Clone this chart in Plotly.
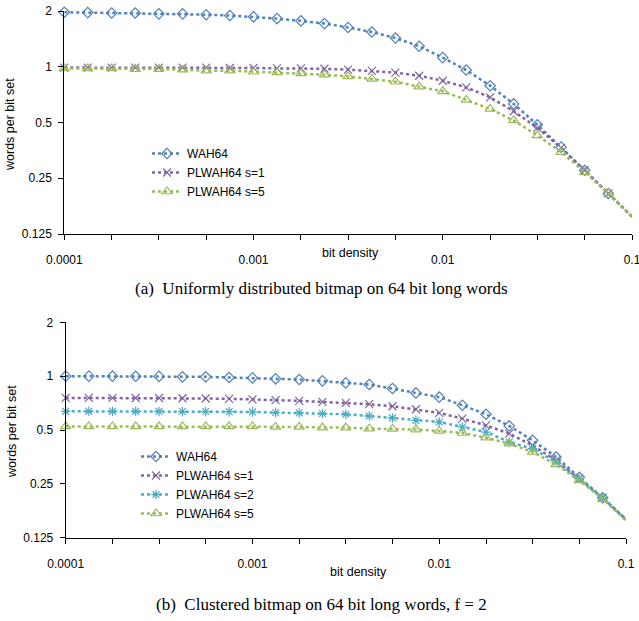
import plotly.graph_objects as go

# ---------------- data ----------------
density = [0.0001, 0.000133, 0.000178, 0.000237, 0.000316, 0.000422, 0.000562, 0.00075,
           0.001, 0.00133, 0.00178, 0.00237, 0.00316, 0.00422, 0.00562, 0.0075,
           0.01, 0.0133, 0.0178, 0.0237, 0.0316, 0.0422, 0.0562, 0.075, 0.1]

# (a) uniformly distributed
a_wah64 = [1.97, 1.96, 1.95, 1.95, 1.93, 1.93, 1.91, 1.89, 1.86, 1.82, 1.77, 1.71, 1.63,
           1.54, 1.43, 1.29, 1.12, 0.96, 0.79, 0.63, 0.486, 0.368, 0.276, 0.207, 0.155]
a_plwah_s1 = [0.99, 0.99, 0.99, 0.99, 0.99, 0.99, 0.99, 0.985, 0.985, 0.98, 0.98, 0.975, 0.965,
              0.95, 0.93, 0.894, 0.84, 0.774, 0.684, 0.575, 0.468, 0.365, 0.276, 0.207, 0.155]
a_plwah_s5 = [0.98, 0.98, 0.98, 0.972, 0.972, 0.964, 0.952, 0.952, 0.94, 0.932, 0.92, 0.906, 0.887,
              0.859, 0.83, 0.781, 0.737, 0.662, 0.592, 0.513, 0.426, 0.346, 0.27, 0.207, 0.155]

# (b) clustered, f = 2
b_wah64 = [1.0, 1.0, 1.0, 0.998, 0.997, 0.991, 0.991, 0.983, 0.978, 0.966, 0.958, 0.941, 0.917,
           0.898, 0.853, 0.806, 0.763, 0.688, 0.612, 0.527, 0.438, 0.353, 0.272, 0.209, 0.158]
b_plwah_s1 = [0.756, 0.756, 0.756, 0.755, 0.755, 0.752, 0.75, 0.747, 0.742, 0.735, 0.728, 0.718, 0.709,
              0.697, 0.679, 0.653, 0.623, 0.579, 0.531, 0.477, 0.41, 0.338, 0.267, 0.209, 0.158]
b_plwah_s2 = [0.636, 0.636, 0.636, 0.636, 0.635, 0.634, 0.634, 0.633, 0.631, 0.626, 0.623, 0.618, 0.612,
              0.599, 0.584, 0.566, 0.554, 0.52, 0.487, 0.428, 0.393, 0.331, 0.267, 0.209, 0.158]
b_plwah_s5 = [0.524, 0.524, 0.524, 0.524, 0.524, 0.524, 0.524, 0.524, 0.524, 0.52, 0.52, 0.516, 0.516,
              0.509, 0.507, 0.503, 0.494, 0.481, 0.453, 0.419, 0.377, 0.321, 0.261, 0.206, 0.156]

x_tickvals = [0.0001, 0.000178, 0.000316, 0.000562, 0.001, 0.00178, 0.00316, 0.00562,
              0.01, 0.0178, 0.0316, 0.0562, 0.1]
x_ticktext = ["0.0001", "", "", "", "0.001", "", "", "", "0.01", "", "", "", "0.1"]
y_tickvals = [0.125, 0.25, 0.5, 1, 2]
y_ticktext = ["0.125", "0.25", "0.5", "1", "2"]

series_a = [("WAH64", a_wah64), ("PLWAH64 s=1", a_plwah_s1), ("PLWAH64 s=5", a_plwah_s5)]
series_b = [("WAH64", b_wah64), ("PLWAH64 s=1", b_plwah_s1), ("PLWAH64 s=2", b_plwah_s2),
            ("PLWAH64 s=5", b_plwah_s5)]

# ---------------- styles ----------------
style = {
    "WAH64": dict(color="#4F81BD", symbol="diamond-open", size=8),
    "PLWAH64 s=1": dict(color="#8064A2", symbol="x-thin", size=8),
    "PLWAH64 s=2": dict(color="#4BACC6", symbol="asterisk-open", size=8),
    "PLWAH64 s=5": dict(color="#9BBB59", symbol="triangle-up-open", size=9),
}

W, H = 639, 621
FONT = "'Liberation Sans', Arial, sans-serif"

fig = go.Figure()

def add_series(series, xa, ya, legend):
    for name, vals in series:
        s = style[name]
        fig.add_trace(go.Scatter(
            x=density, y=vals, name=name, mode="lines+markers",
            xaxis=xa, yaxis=ya, legend=legend, cliponaxis=False,
            line=dict(color=s["color"], width=2.5, dash="dot"),
            marker=dict(symbol=s["symbol"], size=s["size"], color=s["color"],
                        line=dict(color=s["color"], width=1.2)),
        ))

add_series(series_a, "x", "y", "legend")
add_series(series_b, "x2", "y2", "legend2")

def px_x(p):
    return p / W

def px_y(p):
    return 1 - p / H

axis_common = dict(
    showline=True, linecolor="black", linewidth=1, showgrid=False, zeroline=False,
    ticks="outside", ticklen=5, tickcolor="black", tickwidth=1, automargin=False,
    ticklabeloverflow="allow",
    tickfont=dict(family=FONT, size=12, color="black"),
)

fig.update_layout(
    width=W, height=H, margin=dict(l=0, r=0, t=0, b=0),
    paper_bgcolor="white", plot_bgcolor="white",
    font=dict(family=FONT, size=12, color="black"),
    xaxis=dict(type="log", range=[-4, -1], domain=[px_x(64.3), px_x(632)],
               anchor="y", tickvals=x_tickvals, ticktext=x_ticktext, ticklabelstandoff=10,
               **axis_common),
    yaxis=dict(type="log", range=[-0.90309, 0.30103], domain=[px_y(234), px_y(11)],
               anchor="x", tickvals=y_tickvals, ticktext=y_ticktext, ticklabelstandoff=4,
               **axis_common),
    xaxis2=dict(type="log", range=[-4, -1], domain=[px_x(65.7), px_x(626)],
                anchor="y2", tickvals=x_tickvals, ticktext=x_ticktext, ticklabelstandoff=10,
                **axis_common),
    yaxis2=dict(type="log", range=[-0.90309, 0.30103], domain=[px_y(537.7), px_y(322.3)],
                anchor="x2", tickvals=y_tickvals, ticktext=y_ticktext, ticklabelstandoff=4,
                **axis_common),
    legend=dict(x=px_x(147), y=px_y(139), xanchor="left", yanchor="top",
                bgcolor="rgba(0,0,0,0)", font=dict(family=FONT, size=12, color="black"),
                itemwidth=30, tracegroupgap=0),
    legend2=dict(x=px_x(136), y=px_y(442), xanchor="left", yanchor="top",
                 bgcolor="rgba(0,0,0,0)", font=dict(family=FONT, size=12, color="black"),
                 itemwidth=30, tracegroupgap=0),
    showlegend=True,
)

annotations = [
    dict(text="words per bit set", x=px_x(10), y=px_y(125), textangle=-90),
    dict(text="words per bit set", x=px_x(12), y=px_y(432), textangle=-90),
    dict(text="bit density", x=px_x(350), y=px_y(253)),
    dict(text="bit density", x=px_x(358), y=px_y(572)),
]
for a in annotations:
    fig.add_annotation(xref="paper", yref="paper", showarrow=False,
                       xanchor="center", yanchor="middle",
                       font=dict(family=FONT, size=12.5, color="black"), **a)

captions = [
    dict(text="(a)  Uniformly distributed bitmap on 64 bit long words", x=px_x(321), y=px_y(288)),
    dict(text="(b)  Clustered bitmap on 64 bit long words, f = 2", x=px_x(321), y=px_y(604)),
]
for c in captions:
    fig.add_annotation(xref="paper", yref="paper", showarrow=False,
                       xanchor="center", yanchor="middle",
                       font=dict(family="'Liberation Serif', 'Times New Roman', serif",
                                 size=17, color="black"), **c)

fig.write_html("out.html", config={"displayModeBar": False},
               post_script="document.body.style.margin='0';document.body.style.overflow='hidden';")
